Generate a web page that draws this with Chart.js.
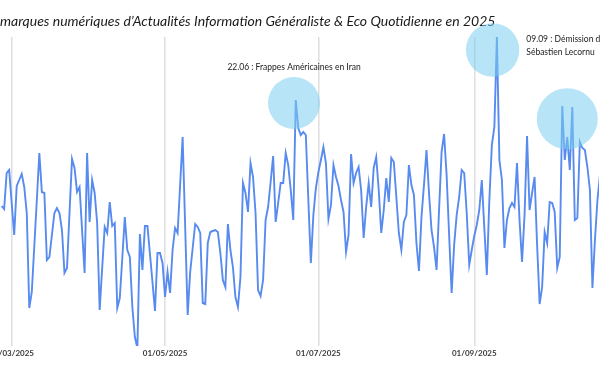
<!DOCTYPE html>
<html>
<head>
<meta charset="utf-8">
<script src="https://cdn.jsdelivr.net/npm/chart.js@4.4.1/dist/chart.umd.min.js"></script>
<style>
  html, body { margin: 0; padding: 0; background: #fff; }
  #wrap { position: relative; width: 600px; height: 372px; overflow: hidden; }
  #c { position: absolute; left: -100px; top: 0; }
</style>
</head>
<body>
<div id="wrap"><canvas id="c" width="700" height="372"></canvas></div>
<script>
// ---- DATA ----
const titleText = "marques numériques d\u2019Actualités Information Généraliste & Eco Quotidienne en 2025";
// day offsets relative to 01/03/2025 ; first value is day -4 (25/02/2025)
const firstDay = -4;
const visites = [
  194,191,227,230,197,
  165,214,220,226,213,187,92,108,154,200,
  247,208,207,140,143,165,187,192,187,170,
  127,132,187,241,232,208,213,170,127,247,
  178,220,207,177,90,132,173,167,198,174,
  177,92,102,142,183,150,143,93,63,52,
  166,130,174,174,146,118,89,147,147,137,
  103,128,107,150,172,167,215,263,174,85,
  128,152,176,173,167,97,96,157,168,169,
  170,168,147,120,113,176,150,133,103,93,
  123,217,207,188,237,223,187,110,104,120,
  180,193,218,244,178,197,217,217,247,235,
  210,180,300,272,265,268,265,200,137,185,
  212,228,240,253,237,181,195,235,223,214,
  200,188,148,165,246,217,227,233,210,162,
  193,217,193,232,243,210,167,190,222,198,
  242,238,203,167,150,178,185,235,215,205,
  157,129,183,215,250,207,170,153,130,190,
  248,266,225,165,107,155,185,203,230,227,
  187,135,150,164,175,190,220,172,125,200,
  255,273,363,240,220,152,180,192,197,193,
  237,180,138,185,264,190,207,223,155,96,
  113,168,157,198,197,188,132,143,294,240,
  263,230,293,180,182,258,252,250,233,210,
  112,160,200,225
];
const tickDays = [0, 61, 122, 184];
const tickLabels = ['01/03/2025', '01/05/2025', '01/07/2025', '01/09/2025'];
const annotDays = [112.3, 191.3, 221.0];
const annotValues = [297, 350, 281.3];
const annotTexts = [
  ['22.06 : Frappes Américaines en Iran'],
  ['09.09 : Démission de', 'Sébastien Lecornu'],
  []
];

// ---- STYLE ----
const annotRadius = [26, 26.7, 30.5];
const annotPlacement = ['above', 'right', 'none'];

const points = visites.map((v, i) => ({ x: firstDay + i, y: v }));

const annotPlugin = {
  id: 'annot',
  afterDatasetsDraw(chart) {
    const ctx = chart.ctx, xs = chart.scales.x, ys = chart.scales.y;
    ctx.save();
    annotDays.forEach((d, i) => {
      const cx = xs.getPixelForValue(d), cy = ys.getPixelForValue(annotValues[i]);
      ctx.beginPath();
      ctx.arc(cx, cy, annotRadius[i], 0, Math.PI * 2);
      ctx.fillStyle = 'rgba(125,205,240,0.55)';
      ctx.fill();
    });
    ctx.restore();
  },
  afterDraw(chart) {
    const ctx = chart.ctx, xs = chart.scales.x, ys = chart.scales.y;
    ctx.save();
    ctx.font = '8.5px Lato';
    ctx.fillStyle = '#222';
    ctx.textBaseline = 'middle';
    annotDays.forEach((d, i) => {
      const cx = xs.getPixelForValue(d), cy = ys.getPixelForValue(annotValues[i]);
      const r = annotRadius[i];
      const lines = annotTexts[i];
      if (annotPlacement[i] === 'above') {
        ctx.textAlign = 'center';
        lines.forEach((t, k) => ctx.fillText(t, cx, cy - r - 10 + k * 12));
      } else if (annotPlacement[i] === 'right') {
        ctx.textAlign = 'left';
        lines.forEach((t, k) => ctx.fillText(t, cx + r + 7, cy - 10.5 + k * 12.4));
      }
    });
    ctx.restore();
  }
};

const chart = new Chart(document.getElementById('c'), {
  type: 'line',
  data: {
    datasets: [{
      data: points,
      borderColor: '#588bef',
      borderWidth: 1.9,
      pointRadius: 0,
      tension: 0,
      fill: false
    }]
  },
  options: {
    responsive: false,
    animation: false,
    devicePixelRatio: 1,
    layout: { padding: { left: 100, right: 0, top: 0, bottom: 10.4 } },
    plugins: {
      legend: { display: false },
      tooltip: { enabled: false },
      title: {
        display: true,
        text: titleText,
        align: 'start',
        color: '#1a1a1a',
        font: { family: 'Lato', size: 14, style: 'italic', weight: 'normal', lineHeight: 1.2 },
        padding: { top: 13, bottom: 7.2 }
      }
    },
    scales: {
      x: {
        type: 'linear',
        min: -4.6465,
        max: 233.637,
        afterBuildTicks(scale) { scale.ticks = tickDays.map(v => ({ value: v })); },
        ticks: {
          autoSkip: false,
          maxRotation: 0,
          padding: 3,
          color: '#3a3a3a',
          font: { family: 'Lato', size: 8, weight: 'bold' },
          callback(v) { const k = tickDays.indexOf(v); return k >= 0 ? tickLabels[k] : ''; }
        },
        grid: { color: '#dedede', lineWidth: 1.5, drawTicks: false },
        border: { display: false }
      },
      y: { display: false, min: 0, max: 400 }
    }
  },
  plugins: [annotPlugin]
});
const ca = chart.chartArea;
chart.options.scales.y.min = 400 - ca.bottom;
chart.options.scales.y.max = 400 - ca.top;
chart.update('none');
</script>
</body>
</html>
